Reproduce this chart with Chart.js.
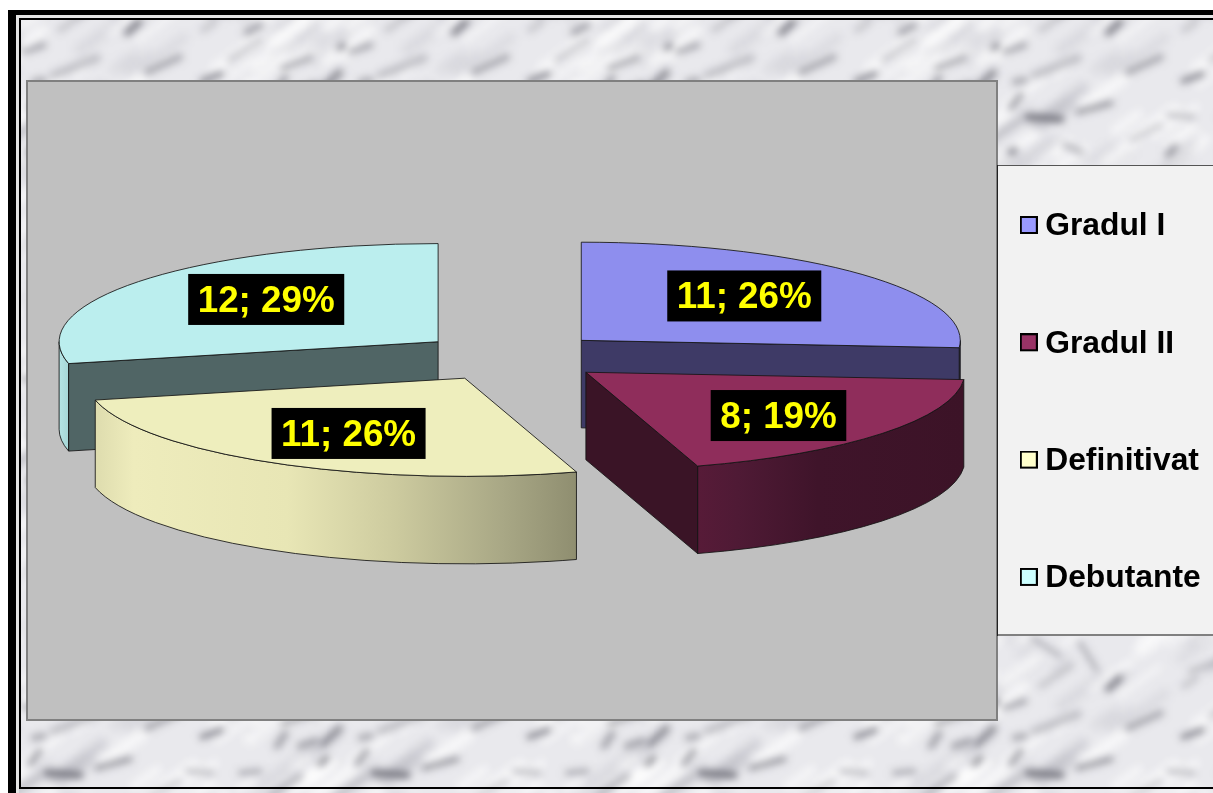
<!DOCTYPE html>
<html>
<head>
<meta charset="utf-8">
<title>Grade didactice</title>
<script src="https://cdn.jsdelivr.net/npm/chart.js@4"></script>
<style>
    html, body { margin: 0; padding: 0; background: #fff; overflow: hidden; }
    canvas { display: block; }
</style>
</head>
<body>
<canvas id="grafic" width="1213" height="793"></canvas>
<script>
const categorii = ["Gradul I", "Gradul II", "Definitivat", "Debutante"];
const valori = [11, 8, 11, 12];

const culoriFata = ["#8e8eee", "#8f2d5b", "#eeeebd", "#bbeeee"];
const culoriLegenda = ["#9999ff", "#993366", "#ffffcc", "#ccffff"];
const culoriTaietura = ["#3e3a66", "#3a1426", "#6f6f58", "#506565"];
const culoriMargine = [
    [[0, "#3e3a66"], [1, "#3e3a66"]],
    [[0, "#571b38"], [0.15, "#4f1a35"], [0.45, "#3f142a"], [1, "#3c1327"]],
    [[0, "#dedcae"], [0.08, "#eeecbc"], [0.4, "#e8e6b5"], [0.62, "#cdcb9f"], [0.85, "#a8a785"], [1, "#8f8e70"]],
    [[0, "#b5e4e4"], [1, "#a6d6d6"]]
];

// inclinarea discului, inaltimea lui si departarea feliilor de centru
const turtire = 0.259;
const grosime = 87.5;
const departare = 94.5;
const deplasareEticheta = [[-17.6, -1], [0, 3.5], [7, 0], [20.7, -2.5]];

// dungile marmurii de pe fundal: x1, y1, x2, y2, grosime, opacitate
const dungi = [
    [127, 33, 139, 22, 6, .8], [24, 52, 44, 45, 5, .6], [30, 108, 40, 95, 5, .65],
    [47, 117, 80, 119, 7, .8], [97, 112, 130, 103, 5, .65], [202, 81, 221, 74, 5, .8],
    [147, 72, 180, 57, 6, .5], [54, 75, 97, 58, 8, .3], [30, 152, 33, 151, 7, .7],
    [187, 155, 194, 147, 6, .6], [187, 115, 212, 117, 4, .45], [84, 145, 100, 152, 6, .4],
    [34, 82, 44, 80, 6, .5], [240, 117, 260, 115, 4, .6], [277, 90, 285, 78, 7, .5],
    [320, 108, 327, 102, 6, .65], [323, 88, 340, 72, 6, .65], [300, 90, 315, 85, 7, .5],
    [283, 68, 310, 58, 6, .5], [247, 32, 260, 25, 7, .5], [203, 30, 215, 22, 6, .25],
    [13, 48, 16, 45, 6, .75], [52, 310, 79, 328, 4, .45], [99, 315, 116, 342, 4, .5],
    [10, 140, 40, 120, 5, .25], [150, 140, 180, 125, 5, .3], [230, 60, 260, 40, 6, .3],
    [60, 30, 90, 10, 6, .25], [270, 140, 300, 120, 6, .4], [210, 15, 240, 5, 6, .3]
];

// linie estompata: se traseaza in afara panzei si ramane doar umbra ei
function linieMoale(c, x1, y1, x2, y2, g, culoare, blur) {
    c.shadowColor = culoare;
    c.shadowBlur = blur;
    c.shadowOffsetX = 2000;
    c.lineWidth = g;
    for (const dx of [-327, 0, 327]) {
        for (const dy of [-328, 0, 328]) {
            c.beginPath();
            c.moveTo(x1 + dx - 2000, y1 + dy);
            c.lineTo(x2 + dx - 2000, y2 + dy);
            c.stroke();
        }
    }
}

function faTextura() {
    const lat = 327, ina = 328;
    const tile = document.createElement("canvas");
    tile.width = lat;
    tile.height = ina;
    const c = tile.getContext("2d");
    c.fillStyle = "#e9e9ed";
    c.fillRect(0, 0, lat, ina);
    c.lineCap = "round";
    c.strokeStyle = "#000";

    // pete fine, cu un generator fix ca sa iasa mereu la fel
    let s = 4711;
    const urm = function () {
        s = (s * 1103515245 + 12345) % 2147483648;
        return s / 2147483648;
    };
    for (let i = 0; i < 150; i++) {
        const x = urm() * lat, y = urm() * ina, l = 12 + urm() * 32;
        const deschis = urm() > 0.45;
        const culoare = deschis ? "rgba(255,255,255,.65)" : "rgba(165,165,175,.2)";
        linieMoale(c, x, y, x + l, y - l * 0.7, 5 + urm() * 9, culoare, 9);
    }
    for (const [x1, y1, x2, y2, g, a] of dungi) {
        linieMoale(c, x1, y1, x2, y2, g, "rgba(95,95,105," + a + ")", 7);
    }

    // micsorata si marita la loc, pe trei randuri ca sa nu se vada rosturile
    const mare = document.createElement("canvas");
    mare.width = lat * 3;
    mare.height = ina * 3;
    const m = mare.getContext("2d");
    for (let i = 0; i < 3; i++) {
        for (let j = 0; j < 3; j++) m.drawImage(tile, i * lat, j * ina);
    }
    const mic = document.createElement("canvas");
    mic.width = lat;
    mic.height = ina;
    const n = mic.getContext("2d");
    n.imageSmoothingEnabled = true;
    n.imageSmoothingQuality = "high";
    n.drawImage(mare, 0, 0, lat, ina);

    const gata = document.createElement("canvas");
    gata.width = lat;
    gata.height = ina;
    const g2 = gata.getContext("2d");
    g2.imageSmoothingEnabled = true;
    g2.imageSmoothingQuality = "high";
    g2.drawImage(mic, -lat, -ina, lat * 3, ina * 3);
    return gata;
}

function faPatrat(culoare) {
    // panza mai inalta ca patratul sta putin mai jos decat centrul textului
    const p = document.createElement("canvas");
    p.width = 18;
    p.height = 21;
    const c = p.getContext("2d");
    c.fillStyle = culoare;
    c.strokeStyle = "#000";
    c.lineWidth = 2;
    c.fillRect(1, 1, 16, 16);
    c.strokeRect(1, 1, 16, 16);
    return p;
}

const textura = faTextura();
const patrate = culoriLegenda.map(faPatrat);

// cadrul, zona gri si caseta legendei
const fundal = {
    id: "fundal",
    beforeDraw(chart) {
        const ctx = chart.ctx;
        ctx.save();
        ctx.fillStyle = ctx.createPattern(textura, "repeat");
        ctx.fillRect(8, 10, 1205, 783);

        ctx.fillStyle = "#000";
        ctx.fillRect(8, 10, 8, 783);
        ctx.fillRect(8, 10, 1205, 5);
        ctx.fillStyle = "#e6e6e6";
        ctx.fillRect(16, 15, 3, 778);
        ctx.fillRect(16, 15, 1197, 3);
        ctx.fillStyle = "#000";
        ctx.fillRect(19, 18, 2, 771);
        ctx.fillRect(19, 18, 1194, 2);
        ctx.fillRect(19, 787, 1194, 2);

        ctx.fillStyle = "#808080";
        ctx.fillRect(26, 80, 972, 641);
        ctx.fillStyle = "#c0c0c0";
        ctx.fillRect(28, 82, 968, 637);

        ctx.fillStyle = "#f2f2f2";
        ctx.fillRect(998, 165, 215, 471);
        ctx.fillStyle = "#555";
        ctx.fillRect(998, 165, 215, 1);
        ctx.fillStyle = "#222";
        ctx.fillRect(997, 165, 1, 471);
        ctx.fillStyle = "#808080";
        ctx.fillRect(998, 634, 215, 2);
        ctx.restore();

        // legenda ramane desenata de Chart.js, doar o asezam in caseta
        const leg = chart.legend;
        const pad = leg.options.labels.padding;
        leg.left = 1028.3 - pad;
        leg.top = 210.6 - pad;
        leg.right = 1213;
        leg.bottom = 793;
    }
};

// feliile sunt desenate turtite, cu peretii lor, din unghiurile calculate de Chart.js
const felii3d = {
    id: "felii3d",
    beforeDatasetDraw(chart, args) {
        const ctx = chart.ctx;
        const arce = args.meta.data;
        const ordine = arce.map((a, i) => i).sort(function (p, q) {
            return Math.sin((arce[p].startAngle + arce[p].endAngle) / 2) - Math.sin((arce[q].startAngle + arce[q].endAngle) / 2);
        });

        ctx.save();
        ctx.lineWidth = 1;
        ctx.lineJoin = "round";
        ctx.strokeStyle = "rgba(20,20,20,.85)";
        for (const i of ordine) {
            const arc = arce[i];
            const a = arc.startAngle, b = arc.endAngle, R = arc.outerRadius, r2 = R * turtire;
            const mij = (a + b) / 2;
            const off = arc.options.offset / 4;
            const cx = arc.x + Math.cos(mij) * off;
            const cy = arc.y + Math.sin(mij) * off * turtire;

            // peretele curbat, doar partea din fata
            const p1 = Math.max(a, 0), p2 = Math.min(b, Math.PI);
            if (p1 < p2) {
                const xa = cx + Math.cos(p2) * R, xb = cx + Math.cos(p1) * R;
                const grad = ctx.createLinearGradient(xa, 0, xb, 0);
                culoriMargine[i].forEach(function (st) { grad.addColorStop(st[0], st[1]); });
                ctx.fillStyle = grad;
                ctx.beginPath();
                ctx.ellipse(cx, cy, R, r2, 0, p1, p2);
                ctx.ellipse(cx, cy + grosime, R, r2, 0, p2, p1, true);
                ctx.closePath();
                ctx.fill();
                ctx.stroke();
            }

            // taieturile radiale care se vad din fata
            const taieturi = [];
            if (Math.cos(a) < -1e-6) taieturi.push(a);
            if (Math.cos(b) > 1e-6) taieturi.push(b);
            for (const t of taieturi) {
                const px = cx + Math.cos(t) * R, py = cy + Math.sin(t) * r2;
                ctx.fillStyle = culoriTaietura[i];
                ctx.beginPath();
                ctx.moveTo(cx, cy);
                ctx.lineTo(px, py);
                ctx.lineTo(px, py + grosime);
                ctx.lineTo(cx, cy + grosime);
                ctx.closePath();
                ctx.fill();
                ctx.stroke();
            }

            // fata de sus
            ctx.fillStyle = arc.options.backgroundColor;
            ctx.beginPath();
            ctx.moveTo(cx, cy);
            ctx.ellipse(cx, cy, R, r2, 0, a, b);
            ctx.closePath();
            ctx.fill();
            ctx.stroke();
        }

        // etichetele valoare; procent
        const total = valori.reduce((s, v) => s + v, 0);
        ctx.font = "bold 36.8px 'Liberation Sans'";
        ctx.textAlign = "center";
        ctx.textBaseline = "middle";
        arce.forEach(function (arc, i) {
            const mij = (arc.startAngle + arc.endAngle) / 2;
            const off = arc.options.offset / 4;
            const k = off + arc.outerRadius * 0.65;
            const x = arc.x + Math.cos(mij) * k + deplasareEticheta[i][0];
            const y = arc.y + Math.sin(mij) * k * turtire + deplasareEticheta[i][1];
            const text = valori[i] + "; " + Math.round(valori[i] / total * 100) + "%";
            const lat = ctx.measureText(text).width + 19;
            ctx.fillStyle = "#000";
            ctx.fillRect(x - lat / 2, y - 25.5, lat, 51);
            ctx.fillStyle = "#ffff00";
            ctx.fillText(text, x, y + 2);
        });
        ctx.restore();
        return false;
    }
};

let grafic = new Chart(document.getElementById("grafic").getContext("2d"), {
    type: "pie",
    data: {
        labels: categorii,
        datasets: [{
            data: valori,
            backgroundColor: culoriFata,
            borderWidth: 0,
            offset: departare * 4
        }]
    },
    options: {
        responsive: false,
        animation: false,
        radius: 379,
        layout: { padding: { bottom: 79 } },
        plugins: {
            tooltip: { enabled: false },
            legend: {
                position: "right",
                align: "start",
                maxWidth: 189,
                labels: {
                    usePointStyle: true,
                    pointStyleWidth: 1,
                    padding: 85.5,
                    color: "#000",
                    font: { family: "'Liberation Sans'", size: 31.8, weight: "bold" },
                    generateLabels(chart) {
                        return chart.data.labels.map(function (nume, i) {
                            return { text: nume, index: i, pointStyle: patrate[i], fontColor: "#000", lineWidth: 0, hidden: false };
                        });
                    }
                }
            }
        }
    },
    plugins: [fundal, felii3d]
});
</script>
</body>
</html>
